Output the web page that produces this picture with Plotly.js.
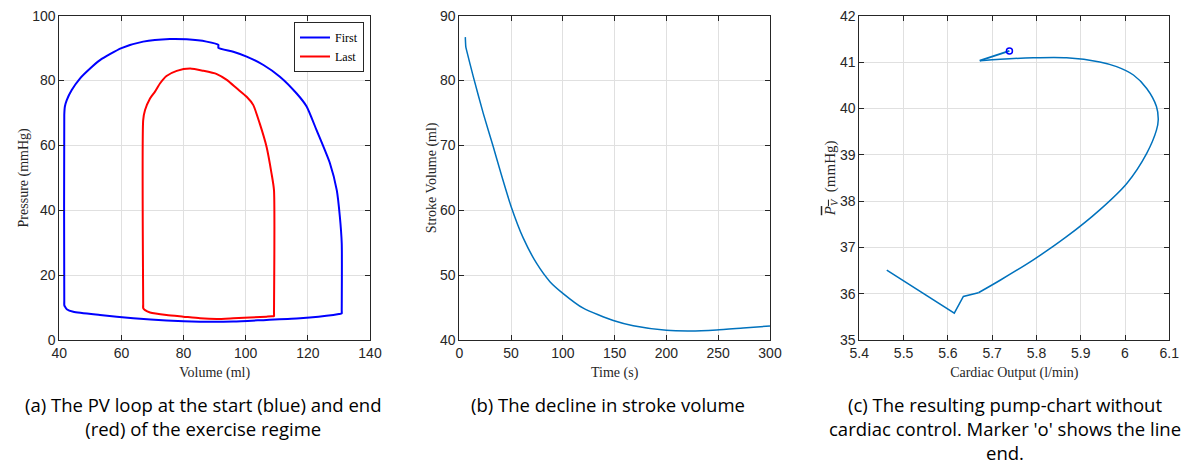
<!DOCTYPE html>
<html>
<head>
<meta charset="utf-8">
<script src="https://cdn.plot.ly/plotly-3.0.1.min.js"></script>
<style>html,body{margin:0;padding:0;background:#fff;}#chart{width:1200px;height:465px;}</style>
</head>
<body>
<div id="chart"></div>
<script>
// (a) PV loops
const firstVolume = [41.6, 41.6, 41.6, 41.8, 42.4, 44.0, 46.7, 50.0, 53.1, 60.0, 67.0, 75.6, 81.0, 87.4, 91.2, 91.2, 96.0, 100.3, 105.7, 111.0, 116.4, 119.6, 122.8, 127.1, 129.3, 130.3, 130.9, 130.9, 130.9, 130.0, 128.2, 117.5, 106.7, 96.0, 85.3, 74.5, 63.8, 53.1, 44.5, 42.4, 41.8, 41.6, 41.6];
const firstPressure = [10.8, 12.0, 69.4, 72.0, 74.0, 77.1, 80.7, 83.8, 86.3, 90.0, 92.0, 92.8, 92.7, 92.0, 91.0, 90.1, 88.9, 87.4, 84.8, 81.2, 76.0, 72.0, 64.7, 54.5, 46.2, 38.0, 29.8, 9.0, 8.2, 8.0, 7.7, 6.7, 6.2, 5.7, 5.65, 6.0, 6.7, 7.7, 8.7, 9.5, 10.3, 10.8, 12.0];
const lastVolume = [67.0, 67.0, 67.0, 67.6, 69.2, 70.8, 72.4, 74.5, 77.8, 82.1, 86.4, 90.7, 93.9, 97.1, 100.3, 102.4, 104.5, 106.7, 108.3, 109.1, 109.1, 109.1, 108.5, 106.7, 96.0, 90.7, 85.3, 79.9, 74.5, 69.2, 67.6, 67.0, 67.0];
const lastPressure = [9.8, 11.0, 67.8, 70.9, 74.5, 76.6, 79.1, 81.4, 83.0, 83.7, 83.0, 82.0, 80.2, 77.6, 75.0, 72.5, 66.8, 59.6, 51.4, 46.2, 8.2, 7.4, 7.3, 7.2, 6.7, 6.5, 6.7, 7.2, 7.7, 8.5, 9.2, 9.8, 11.0];
// (b) stroke volume over time
const timeS = [5.8, 6.3, 7.0, 13.5, 23.2, 32.8, 39.3, 50, 61.8, 74.7, 87.5, 100, 119.7, 148.7, 168, 200, 222.7, 248.5, 274, 300];
const strokeVolume = [86.7, 85.2, 84.7, 80.6, 74.9, 69.8, 66.2, 60.6, 55.7, 51.8, 49.0, 47.2, 44.9, 43.0, 42.2, 41.5, 41.4, 41.55, 41.85, 42.16];
// (c) pump chart
const cardiacOutput = [5.462, 5.6145, 5.635, 5.669, 5.718, 5.793, 5.868, 5.943, 6.004, 6.049, 6.071, 6.075, 6.071, 6.049, 6.019, 5.981, 5.943, 5.868, 5.793, 5.718, 5.672, 5.739];
const meanPv = [36.51, 35.58, 35.94, 36.02, 36.29, 36.73, 37.23, 37.81, 38.38, 39.03, 39.53, 39.75, 40.04, 40.43, 40.72, 40.90, 41.00, 41.09, 41.09, 41.06, 41.03, 41.24];

const captions = [
  "(a) The PV loop at the start (blue) and end<br>(red) of the exercise regime",
  "(b) The decline in stroke volume",
  "(c) The resulting pump-chart without<br>cardiac control. Marker 'o' shows the line<br>end."
];

const tickFont = {family: "Liberation Sans, Arial, sans-serif", size: 14, color: "#262626"};
const titleFont = {family: "Liberation Serif, DejaVu Serif, serif", size: 14, color: "#262626"};
const capFont = {family: "Open Sans, Lato, sans-serif", size: 18.5, color: "#000"};

function ax(extra) {
  return Object.assign({
    showline: true, mirror: "ticks", linecolor: "#262626", linewidth: 1,
    ticks: "inside", ticklen: 5, tickcolor: "#262626", tickwidth: 1,
    showgrid: true, gridcolor: "#e0e0e0", gridwidth: 1, zeroline: false,
    tickfont: tickFont, fixedrange: true
  }, extra);
}

const yDom = [1 - 340/465, 1 - 15.7/465];

const traces = [
  {x: firstVolume, y: firstPressure, type: "scatter", mode: "lines", name: "First",
   line: {color: "#0000ff", width: 2, shape: "spline", smoothing: 0.6}, xaxis: "x", yaxis: "y"},
  {x: lastVolume, y: lastPressure, type: "scatter", mode: "lines", name: "Last",
   line: {color: "#ff0000", width: 2, shape: "spline", smoothing: 0.6}, xaxis: "x", yaxis: "y"},
  {x: timeS, y: strokeVolume, type: "scatter", mode: "lines", showlegend: false,
   line: {color: "#0072bd", width: 1.5, shape: "spline", smoothing: 0.6}, xaxis: "x2", yaxis: "y2"},
  {x: cardiacOutput.slice(0, 4), y: meanPv.slice(0, 4), type: "scatter", mode: "lines", showlegend: false,
   line: {color: "#0072bd", width: 1.5}, xaxis: "x3", yaxis: "y3"},
  {x: cardiacOutput.slice(3, 21), y: meanPv.slice(3, 21), type: "scatter", mode: "lines", showlegend: false,
   line: {color: "#0072bd", width: 1.5, shape: "spline", smoothing: 0.8}, xaxis: "x3", yaxis: "y3"},
  {x: cardiacOutput.slice(20), y: meanPv.slice(20), type: "scatter", mode: "lines", showlegend: false,
   line: {color: "#0072bd", width: 2}, xaxis: "x3", yaxis: "y3"},
  {x: cardiacOutput.slice(-1), y: meanPv.slice(-1), type: "scatter", mode: "markers", showlegend: false,
   marker: {symbol: "circle-open", color: "#0000ff", size: 6, line: {width: 1.5, color: "#0000ff"}}, xaxis: "x3", yaxis: "y3"}
];

const layout = {
  width: 1200, height: 465,
  margin: {l: 0, r: 0, t: 0, b: 0},
  paper_bgcolor: "#fff", plot_bgcolor: "#fff",
  showlegend: true,
  legend: {x: 364/1200, y: 1 - 22/465, xanchor: "right", yanchor: "top",
    bgcolor: "#fff", bordercolor: "#262626", borderwidth: 1,
    font: {family: "Liberation Serif, DejaVu Serif, serif", size: 12, color: "#000"},
    tracegroupgap: 0, itemwidth: 30},
  xaxis: ax({domain: [59.3/1200, 370/1200], range: [40, 140], dtick: 20, anchor: "y",
    title: {text: "Volume (ml)", font: titleFont, standoff: 7}}),
  yaxis: ax({domain: yDom, range: [0, 100], dtick: 20, anchor: "x",
    title: {text: "Pressure (mmHg)", font: titleFont, standoff: 0}}),
  xaxis2: ax({domain: [459.3/1200, 770/1200], range: [0, 300], dtick: 50, anchor: "y2",
    title: {text: "Time (s)", font: titleFont, standoff: 7}}),
  yaxis2: ax({domain: yDom, range: [40, 90], dtick: 10, anchor: "x2",
    title: {text: "Stroke Volume (ml)", font: titleFont, standoff: 0}}),
  xaxis3: ax({domain: [859.3/1200, 1169.3/1200], range: [5.4, 6.1], anchor: "y3",
    tickvals: [5.4, 5.5, 5.6, 5.7, 5.8, 5.9, 6.0, 6.1], ticktext: ["5.4", "5.5", "5.6", "5.7", "5.8", "5.9", "6", "6.1"],
    title: {text: "Cardiac Output (l/min)", font: titleFont, standoff: 7}}),
  yaxis3: ax({domain: yDom, range: [35, 42], dtick: 1, anchor: "x3",
    title: {text: "<span style='text-decoration:overline'><i>P</i><sub><i>V</i></sub></span>  (mmHg)", font: {family: titleFont.family, size: 15, color: "#262626"}, standoff: 0}}),
  annotations: [
    {text: captions[0], x: 203/1200, y: 1 - 390/465},
    {text: captions[1], x: 608/1200, y: 1 - 390/465},
    {text: captions[2], x: 1005/1200, y: 1 - 390/465}
  ].map(a => Object.assign(a, {xref: "paper", yref: "paper", xanchor: "center", yanchor: "top",
    showarrow: false, align: "center", font: capFont}))
};

Plotly.newPlot("chart", traces, layout, {displayModeBar: false, staticPlot: true});
</script>
</body>
</html>
